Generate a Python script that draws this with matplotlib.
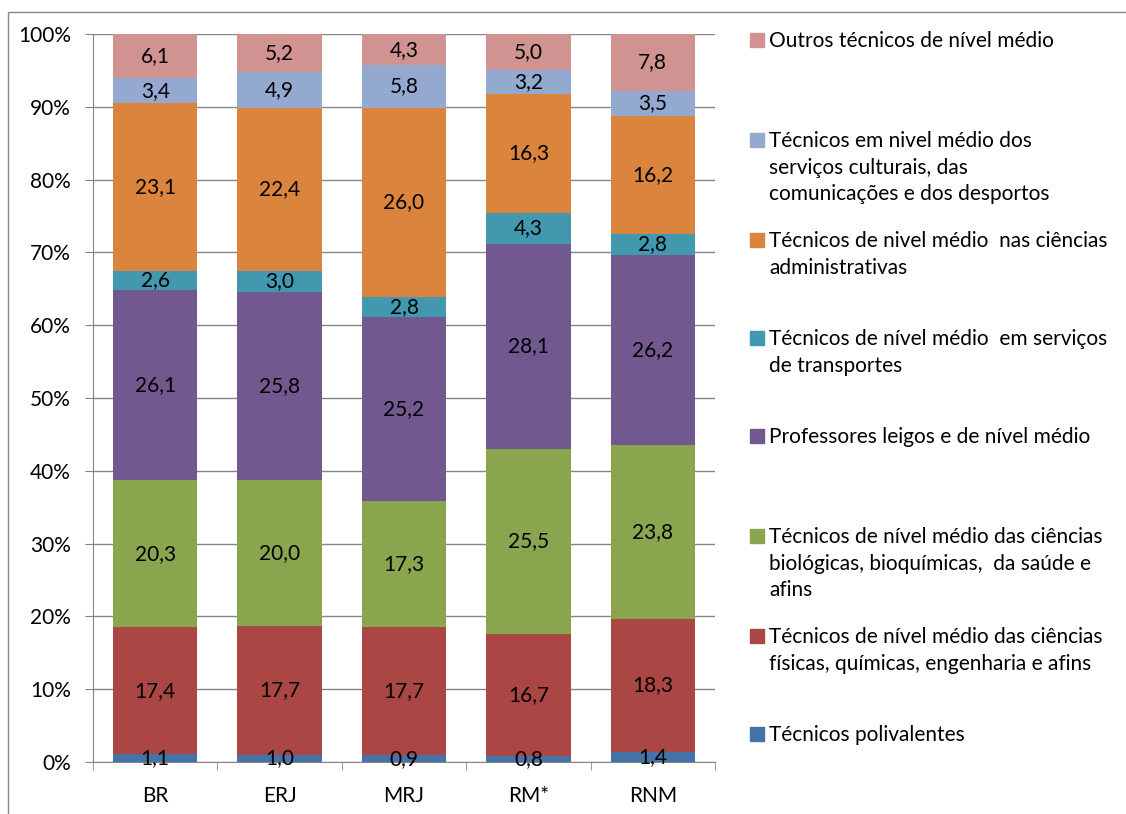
import matplotlib
matplotlib.use("Agg")
import matplotlib.pyplot as plt
import numpy as np
from matplotlib.patches import Rectangle

plt.rcParams['font.family'] = ['Lato', 'DejaVu Sans']

categories = ["BR", "ERJ", "MRJ", "RM*", "RNM"]
series_names = [
    "Técnicos polivalentes",
    "Técnicos de nível médio das ciências\nfísicas, químicas, engenharia e afins",
    "Técnicos de nível médio das ciências\nbiológicas, bioquímicas,  da saúde e\nafins",
    "Professores leigos e de nível médio",
    "Técnicos de nível médio  em serviços\nde transportes",
    "Técnicos de nivel médio  nas ciências\nadministrativas",
    "Técnicos em nivel médio dos\nserviços culturais, das\ncomunicações e dos desportos",
    "Outros técnicos de nível médio",
]
polivalentes = [1.1, 1.0, 0.9, 0.8, 1.4]
fisicas = [17.4, 17.7, 17.7, 16.7, 18.3]
biologicas = [20.3, 20.0, 17.3, 25.5, 23.8]
professores = [26.1, 25.8, 25.2, 28.1, 26.2]
transportes = [2.6, 3.0, 2.8, 4.3, 2.8]
administrativas = [23.1, 22.4, 26.0, 16.3, 16.2]
culturais = [3.4, 4.9, 5.8, 3.2, 3.5]
outros = [6.1, 5.2, 4.3, 5.0, 7.8]
series = [polivalentes, fisicas, biologicas, professores, transportes,
          administrativas, culturais, outros]
colors = ["#4572A7", "#AA4643", "#89A54E", "#71588F", "#4198AF",
          "#DB843D", "#93A9CF", "#D19392"]

data = np.array(series, dtype=float)
totals = data.sum(axis=0)
pct = data / totals * 100

FS = 15
fig = plt.figure(figsize=(11.26, 8.14), dpi=100)
ax = fig.add_axes([93/1126, 1-762/814, (715-93)/1126, (762-34)/814])

x = np.arange(len(categories))
bottom = np.zeros(len(categories))
for i in range(len(series)):
    ax.bar(x, pct[i], bottom=bottom, width=0.68, color=colors[i], zorder=3)
    for j in range(len(categories)):
        ax.text(x[j], bottom[j] + pct[i][j]/2, f"{data[i][j]:.1f}".replace('.', ','),
                ha='center', va='center', fontsize=FS, color='black', zorder=4)
    bottom += pct[i]

ax.set_xlim(-0.5, len(categories) - 0.5)
ax.set_ylim(0, 100)
ax.set_yticks(np.arange(0, 101, 10))
ax.set_yticklabels([f"{v}%" for v in range(0, 101, 10)], fontsize=FS)
ax.yaxis.grid(True, color='#868686', linewidth=1, zorder=0)
ax.set_xticks(x)
ax.set_xticklabels(categories, fontsize=FS)
ax.set_xticks(np.arange(-0.5, len(categories), 1), minor=True)
ax.tick_params(axis='x', which='major', length=0, pad=17)
ax.tick_params(axis='x', which='minor', length=6, color='#868686', direction='out')
ax.tick_params(axis='y', length=6, color='#868686', direction='out', pad=10)
for s in ['top', 'right']:
    ax.spines[s].set_visible(False)
for s in ['left', 'bottom']:
    ax.spines[s].set_color('#868686')

# Legend drawn manually (top entry first)
legend_y = [40, 140, 240, 338, 436, 536, 636, 734]  # pixel y of first text line center
order = list(range(len(series)))[::-1]
for k, idx in enumerate(order):
    ypix = legend_y[k]
    fig.patches.append(Rectangle((750/1126, 1-(ypix+7)/814), 14/1126, 14/814,
                                 transform=fig.transFigure, color=colors[idx]))
    fig.text(769/1126, 1-(ypix-9)/814, series_names[idx], ha='left', va='top',
             fontsize=FS, linespacing=1.42)

# outer frame
fig.patches.append(Rectangle((8/1126, -0.1), 1.2, 1.1 - 12/814, transform=fig.transFigure,
                             fill=False, edgecolor='#868686', linewidth=1))

fig.savefig("out.png", dpi=100)
